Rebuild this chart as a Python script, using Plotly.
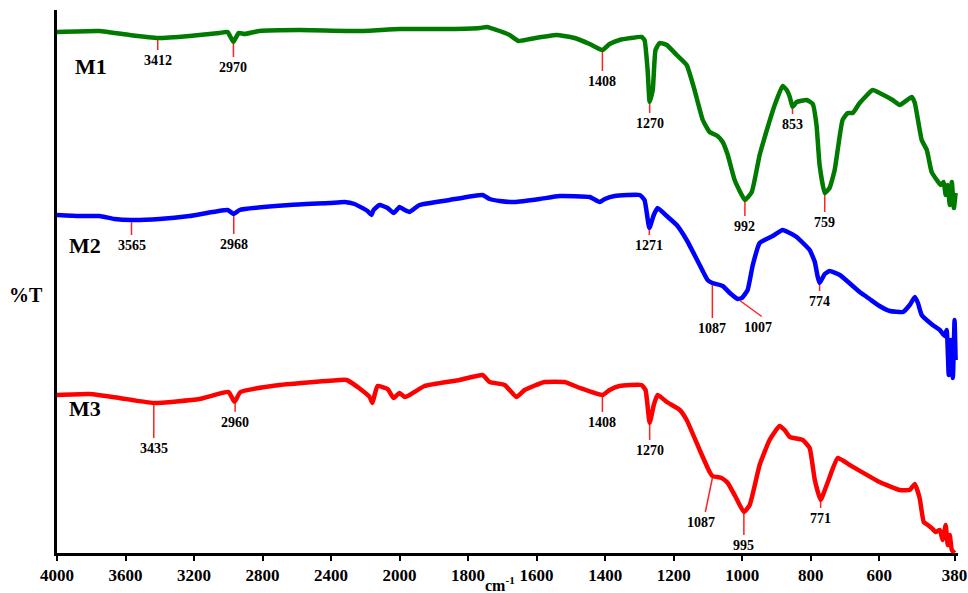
import numpy as np
import plotly.graph_objects as go

# ---- FTIR spectra (wavenumber in cm-1, offset transmittance in arbitrary units) ----
m1_wn = [4000, 3752, 3577, 3412, 3226, 3051, 3004, 2970, 2940, 2905, 2818, 2584, 2234,
         2000, 1854, 1766, 1746, 1708, 1679, 1653, 1620, 1542, 1489, 1445, 1408, 1387,
         1358, 1294, 1285, 1276, 1270, 1261, 1253, 1241, 1220, 1191, 1162, 1139, 1115,
         1095, 1072, 1057, 1042, 1022, 992, 972, 949, 928, 905, 882, 870, 861, 853, 841,
         812, 794, 783, 774, 759, 745, 730, 707, 692, 677, 657, 619, 599, 561, 540, 505,
         496, 476, 461, 447, 432, 421, 412, 406, 400, 394, 388, 382, 377]
m1_t = [521, 522, 518, 515, 517, 520, 521, 511, 520, 519, 522, 523, 522,
        524, 524, 525, 526, 522, 518, 512, 514, 518, 515, 509, 503, 509,
        513, 516, 513, 483, 451, 463, 503, 510, 508, 498, 488, 463, 433,
        421, 417, 411, 398, 373, 353, 361, 398, 423, 448, 467, 463, 456, 446, 451,
        453, 449, 428, 388, 360, 365, 383, 433, 440, 440, 450, 463, 460, 453, 448, 456,
        450, 413, 403, 381, 373, 368, 371, 358, 368, 348, 371, 345, 360]

m2_wn = [4000, 3869, 3752, 3664, 3565, 3402, 3226, 3004, 2968, 2934, 2642, 2409, 2321,
         2263, 2187, 2164, 2152, 2117, 2070, 2035, 2000, 1985, 1971, 1942, 1854, 1758,
         1737, 1708, 1664, 1591, 1533, 1445, 1416, 1401, 1372, 1299, 1285, 1271, 1258,
         1247, 1220, 1191, 1162, 1124, 1101, 1087, 1057, 1036, 1013, 1001, 984, 969, 949,
         911, 882, 861, 841, 803, 788, 780, 774, 759, 745, 715, 657, 628, 599, 569, 531,
         511, 496, 487, 476, 444, 423, 409, 403, 397, 391, 385, 380, 377]
m2_t = [338, 337, 337, 334, 333, 334, 337, 343, 339, 343, 348, 350, 351,
        349, 342, 338, 343, 348, 345, 340, 346, 343, 341, 348, 353, 358,
        354, 352, 351, 354, 357, 356, 351, 354, 357, 358, 353, 325, 338,
        345, 337, 328, 313, 288, 273, 270, 267, 260, 254, 255, 263, 288, 310,
        317, 323, 320, 316, 303, 291, 277, 270, 279, 282, 278, 261, 254, 247, 242, 241,
        248, 256, 250, 238, 228, 223, 217, 223, 178, 213, 175, 233, 193]

m3_wn = [4000, 3810, 3635, 3436, 3168, 2998, 2964, 2929, 2701, 2350, 2309, 2222, 2175,
         2158, 2146, 2129, 2070, 2035, 2000, 1985, 1971, 1927, 1825, 1758, 1737, 1693,
         1659, 1635, 1577, 1518, 1474, 1408, 1387, 1358, 1294, 1282, 1270, 1258, 1247,
         1220, 1182, 1162, 1124, 1095, 1087, 1060, 1042, 1019, 995, 978, 949, 920, 891,
         876, 861, 823, 803, 788, 771, 750, 721, 686, 599, 540, 511, 496, 482, 470, 458,
         447, 435, 423, 415, 406, 400, 394, 388, 380]
m3_t = [158, 159, 155, 150, 154, 161, 151, 161, 168, 173, 173, 163, 156,
        150, 158, 167, 164, 155, 160, 156, 158, 167, 173, 178, 171, 168,
        156, 163, 171, 171, 165, 158, 163, 167, 168, 163, 130, 148, 158,
        151, 143, 133, 103, 81, 77, 75, 70, 56, 41, 48, 88, 113, 127,
        123, 116, 113, 105, 73, 53, 71, 95, 88, 71, 63, 63, 69, 55, 31, 28,
        25, 21, 23, 13, 28, 8, 18, 3, 0]

m1_peaks = [3412, 2970, 1408, 1270, 992, 853, 759]
m2_peaks = [3565, 2968, 1271, 1087, 1007, 774]
m3_peaks = [3435, 2960, 1408, 1270, 1087, 995, 771]

tick_wn = [4000, 3600, 3200, 2800, 2400, 2000, 1800, 1600, 1400, 1200, 1000, 800, 600, 380]
series_names = ["M1", "M2", "M3"]

# ---- axis scale: 400 cm-1 per division above 2000, 200 cm-1 per division below ----
def to_u(wn):
    wn = np.asarray(wn, dtype=float)
    return np.where(wn >= 2000, (4000 - wn) / 400.0, 5 + (2000 - wn) / 200.0)

FONT = "Liberation Serif, Times New Roman, serif"
PX_PER_U = 68.5      # horizontal pixels per axis division
U_MAX = 13.15

colors = ["#007a00", "#0000ff", "#ff0000"]
spectra = [(m1_wn, m1_t), (m2_wn, m2_t), (m3_wn, m3_t)]
peaks = [m1_peaks, m2_peaks, m3_peaks]

# marker-line geometry per series: peak -> (dx px, drop px)
leader = [
    {3412: (0, 10), 2970: (0, 13), 1408: (0, 19), 1270: (0, 9), 992: (0, 14), 853: (0, 5), 759: (0, 17)},
    {3565: (0, 13), 2968: (0, 18), 1271: (0, 5), 1087: (0, 33), 1007: (22, 16), 774: (0, 6)},
    {3435: (0, 33), 2960: (0, 9), 1408: (0, 15), 1270: (0, 15), 1087: (-7, 34), 995: (0, 21), 771: (0, 6)},
]

fig = go.Figure()
shapes = []
annotations = []

for i, ((wn, t), col) in enumerate(zip(spectra, colors)):
    fig.add_trace(go.Scatter(x=to_u(wn), y=t, mode="lines",
                             line=dict(color=col, width=4.5, shape="spline", smoothing=0.4),
                             showlegend=False, hoverinfo="skip"))
    xs = np.asarray(wn, dtype=float)[::-1]
    ys = np.asarray(t, dtype=float)[::-1]
    for p in peaks[i]:
        y0 = float(np.interp(p, xs, ys)) - 2
        dx, dy = leader[i][p]
        x0 = float(to_u(p))
        x1 = x0 + dx / PX_PER_U
        y1 = y0 - dy
        shapes.append(dict(type="line", xref="x", yref="y", x0=x0, y0=y0, x1=x1, y1=y1,
                           line=dict(color="#ff2020", width=1.5)))
        lx = x1 - (4 / PX_PER_U if dx != 0 else 0)
        annotations.append(dict(x=lx, y=y1, xref="x", yref="y", text=str(p),
                                showarrow=False, xanchor="center", yanchor="top", yshift=-1,
                                font=dict(family=FONT, size=14, color="black", weight="bold")))

# series names
name_pos = [(0.23, 487), (0.14, 308), (0.14, 145)]
for name, (ux, uy) in zip(series_names, name_pos):
    annotations.append(dict(x=ux, y=uy, xref="x", yref="y", text=name, showarrow=False,
                            xanchor="left", yanchor="middle",
                            font=dict(family=FONT, size=22, color="black", weight="bold")))

annotations.append(dict(x=-0.034, y=0.475, xref="paper", yref="paper", text="%T",
                        showarrow=False, xanchor="center", yanchor="middle",
                        font=dict(family=FONT, size=20, color="black", weight="bold")))
annotations.append(dict(x=0.492, y=-0.058, xref="paper", yref="paper", text="cm<sup>-1</sup>",
                        showarrow=False, xanchor="center", yanchor="middle",
                        font=dict(family=FONT, size=16, color="black", weight="bold")))

fig.update_layout(
    width=968, height=593,
    margin=dict(l=57, r=10, t=10, b=40, autoexpand=False),
    paper_bgcolor="white", plot_bgcolor="white",
    shapes=shapes, annotations=annotations,
    xaxis=dict(range=[0, U_MAX], tickvals=to_u(tick_wn).tolist(),
               ticktext=[str(v) for v in tick_wn], automargin=False,
               showline=True, linewidth=3, linecolor="black",
               ticks="outside", ticklen=5, tickwidth=2, tickcolor="black",
               tickfont=dict(family=FONT, size=17, color="black", weight="bold"),
               showgrid=False, zeroline=False),
    yaxis=dict(range=[0, 543], showline=True, linewidth=3, linecolor="black",
               automargin=False,
               showticklabels=False, ticks="", showgrid=False, zeroline=False),
)

fig.write_html("out.html")
